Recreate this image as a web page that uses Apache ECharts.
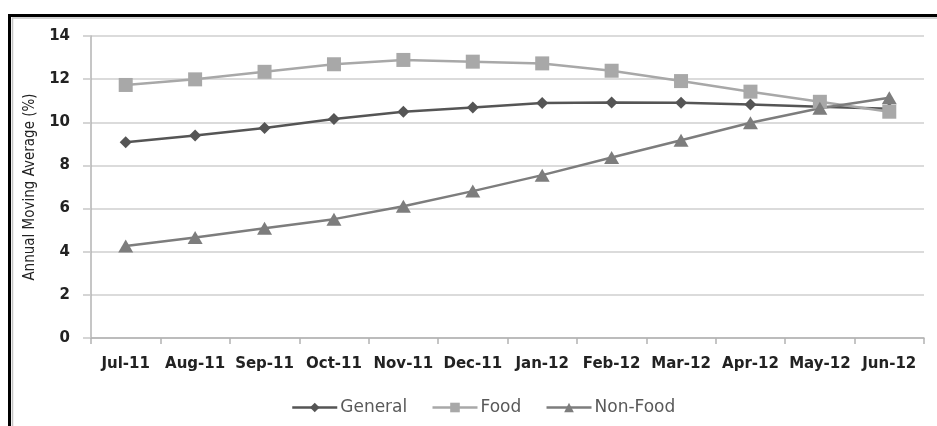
<!DOCTYPE html>
<html>
<head>
<meta charset="utf-8">
<script src="https://cdn.jsdelivr.net/npm/echarts@6/dist/echarts.min.js"></script>
<style>
  html, body { margin: 0; padding: 0; background: #ffffff; }
  #chart { width: 937px; height: 426px; }
</style>
</head>
<body>
<div id="chart"></div>
<script>
// Monthly categories, July 2011 to June 2012
const categories = ['Jul-11', 'Aug-11', 'Sep-11', 'Oct-11', 'Nov-11', 'Dec-11',
                    'Jan-12', 'Feb-12', 'Mar-12', 'Apr-12', 'May-12', 'Jun-12'];

// Annual moving average inflation (%)
const general = [9.07, 9.39, 9.74, 10.15, 10.49, 10.69, 10.89, 10.92, 10.90, 10.83, 10.72, 10.63];
const food    = [11.73, 11.99, 12.34, 12.69, 12.89, 12.81, 12.73, 12.39, 11.91, 11.42, 10.95, 10.49];
const nonFood = [4.26, 4.66, 5.09, 5.51, 6.11, 6.81, 7.55, 8.37, 9.17, 9.98, 10.65, 11.14];

const yTicks = { min: 0, max: 14, interval: 2 };

const chart = echarts.init(document.getElementById('chart'), null, { renderer: 'canvas' });

const tickFont = 'DejaVu Sans, Verdana, sans-serif';

chart.setOption({
  animation: false,
  backgroundColor: '#ffffff',
  graphic: [
    // outer frame (top and left edges)
    { type: 'rect', shape: { x: 9.5, y: 15.5, width: 1000, height: 500 },
      style: { fill: 'none', stroke: '#000000', lineWidth: 3 }, z: 100 },
    { type: 'rect', shape: { x: 12.5, y: 18, width: 1000, height: 500 },
      style: { fill: 'none', stroke: '#c4c4c4', lineWidth: 1.5 }, z: 99 }
  ],
  grid: { left: 91, right: 13, top: 36, bottom: 88, containLabel: false },
  legend: {
    left: 286,
    top: 394,
    itemWidth: 45,
    itemHeight: 12,
    itemGap: 24,
    lineStyle: { width: 2.5 },
    textStyle: { fontFamily: tickFont, fontSize: 17, color: '#595959', padding: [0, 0, 0, -2] },
    data: ['General', 'Food', 'Non-Food']
  },
  xAxis: {
    type: 'category',
    data: categories,
    boundaryGap: true,
    axisLine: { lineStyle: { color: '#b3b3b3', width: 1.5 } },
    axisTick: { show: true, length: 6, lineStyle: { color: '#b3b3b3', width: 1.5 } },
    axisLabel: { interval: 0, margin: 19, fontFamily: tickFont, fontWeight: 'bold',
                 fontSize: 15, color: '#222222' },
    splitLine: { show: false }
  },
  yAxis: {
    type: 'value',
    min: yTicks.min,
    max: yTicks.max,
    interval: yTicks.interval,
    name: 'Annual Moving Average (%)',
    nameLocation: 'middle',
    nameGap: 53,
    nameTextStyle: { fontFamily: 'Liberation Sans Narrow, DejaVu Sans Condensed, sans-serif',
                     fontSize: 15, color: '#222222' },
    axisLine: { show: true, lineStyle: { color: '#b3b3b3', width: 1.5 } },
    axisTick: { show: true, inside: false, length: 8, lineStyle: { color: '#c8c8c8', width: 1.5 } },
    axisLabel: { margin: 21, fontFamily: tickFont, fontWeight: 'bold', fontSize: 15, color: '#222222' },
    splitLine: { show: true, lineStyle: { color: '#cfcfcf', width: 1.5 } }
  },
  series: [
    {
      name: 'General', type: 'line', data: general,
      symbol: 'diamond', symbolSize: 12,
      lineStyle: { color: '#555555', width: 2.5 },
      itemStyle: { color: '#555555' }
    },
    {
      name: 'Food', type: 'line', data: food,
      symbol: 'rect', symbolSize: 14,
      lineStyle: { color: '#a8a8a8', width: 2.5 },
      itemStyle: { color: '#a8a8a8' }
    },
    {
      name: 'Non-Food', type: 'line', data: nonFood,
      symbol: 'triangle', symbolSize: [15, 13],
      lineStyle: { color: '#7d7d7d', width: 2.5 },
      itemStyle: { color: '#7d7d7d' }
    }
  ]
});
</script>
</body>
</html>
